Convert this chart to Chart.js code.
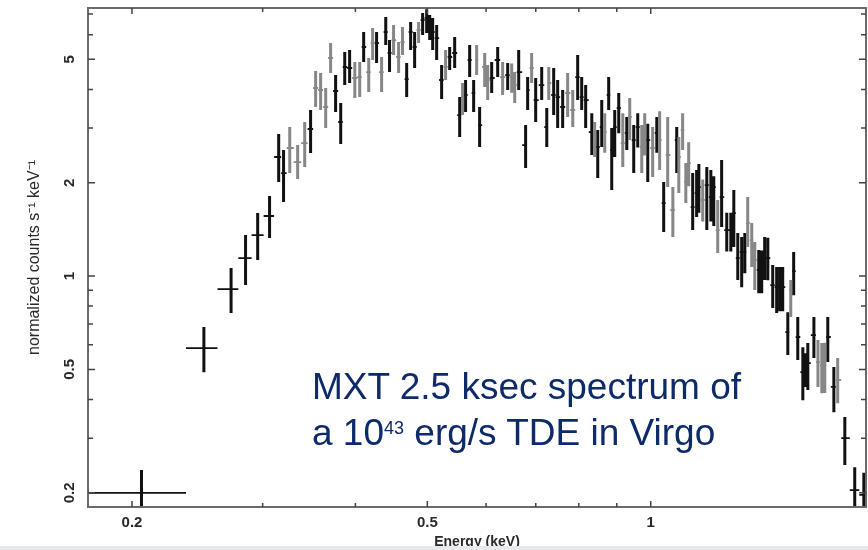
<!DOCTYPE html>
<html><head><meta charset="utf-8">
<script src="https://cdn.jsdelivr.net/npm/chart.js@4.4.1/dist/chart.umd.min.js"></script>
<style>
html,body{margin:0;padding:0;background:#fff;}
#wrap{position:relative;width:868px;height:550px;overflow:hidden;background:#fff;}
canvas{position:absolute;left:0;top:0;}
#note{position:absolute;left:312px;top:364px;font-family:"Liberation Sans",Arial,sans-serif;font-size:37px;line-height:46px;color:#0d2a6b;white-space:nowrap;}
#note .sup{font-size:18px;position:relative;top:-11px;}
#strip{position:absolute;left:0;bottom:0;width:868px;height:4px;background:#e6ecec;}
</style></head>
<body><div id="wrap"><canvas id="c" width="868" height="550"></canvas><div id="note">MXT 2.5 ksec spectrum of<br>a 10<span class="sup">43</span> erg/s TDE in Virgo</div><div id="strip"></div></div>
<script>
// ---- data ----
const energy = [0.206,0.250,0.272,0.2845,0.2954,0.3065,0.3153,0.3201,0.3263,0.3344,0.3418,0.3481,0.3536,0.3591,0.3648,0.3704,0.3762,0.3822,0.387,0.3929,0.3993,0.4054,0.4104,0.4169,0.4220,0.4272,0.4339,0.4395,0.4447,0.4503,0.4574,0.4630,0.469,0.4748,0.4807,0.4867,0.4928,0.4990,0.5037,0.5084,0.5147,0.5227,0.5292,0.5359,0.5443,0.5528,0.5578,0.563,0.5702,0.5773,0.5827,0.5881,0.5974,0.603,0.6105,0.622,0.6316,0.6416,0.6496,0.6557,0.6639,0.6783,0.6826,0.6911,0.6998,0.713,0.7243,0.7288,0.74,0.7492,0.7609,0.7728,0.7851,0.7972,0.8072,0.8172,0.8329,0.8403,0.8484,0.859,0.867,0.8777,0.886,0.8943,0.9055,0.9169,0.9284,0.9369,0.9486,0.9605,0.9725,0.9815,0.9908,1.006,1.019,1.028,1.041,1.054,1.071,1.084,1.091,1.104,1.115,1.125,1.139,1.153,1.161,1.175,1.19,1.205,1.216,1.231,1.246,1.266,1.282,1.294,1.310,1.326,1.339,1.351,1.368,1.381,1.398,1.411,1.424,1.438,1.460,1.478,1.492,1.506,1.530,1.544,1.558,1.578,1.603,1.618,1.628,1.659,1.680,1.700,1.716,1.732,1.765,1.786,1.826,1.883,1.937];
const counts = [0.200,0.586,0.908,1.143,1.356,1.562,2.421,2.149,2.588,2.332,2.685,2.98,4.041,3.981,3.509,5.049,3.952,3.139,4.723,4.688,4.352,4.384,5.479,4.55,5.642,5.642,4.55,6.124,5.241,5.77,5.087,5.685,4.319,6.124,5.479,6.216,6.696,6.796,6.45,6.124,5.857,4.288,4.723,5.087,5.241,3.306,3.779,3.837,4.975,3.894,4.975,3.069,4.723,4.288,4.352,4.975,4.384,4.45,4.384,4.131,4.55,2.646,3.98,4.688,3.696,4.131,3.024,4.194,3.837,3.779,3.509,3.894,3.432,4.384,3.779,3.696,2.914,2.808,2.608,3.024,2.914,3.837,2.55,3.024,3.483,2.685,2.893,3.258,2.746,3.024,2.608,2.893,2.746,2.588,2.893,2.746,1.72,2.457,1.633,2.746,2.421,2.958,2.01,2.314,1.669,1.852,1.937,1.759,1.966,1.798,1.937,1.407,1.798,1.407,1.407,1.597,1.143,1.195,1.195,1.483,1.306,1.126,1.046,1.046,1.143,1.143,0.935,0.921,0.921,0.921,0.660,0.901,1.038,0.636,0.490,0.490,0.524,0.645,0.528,0.516,0.516,0.636,0.439,0.462,0.300,0.204,0.197];
const countLow = [0.170,0.490,0.760,0.935,1.126,1.326,2.010,1.733,2.149,2.055,2.247,2.493,3.509,3.432,3.002,4.516,3.381,2.666,4.131,4.194,3.751,3.78,4.901,3.923,4.975,4.865,3.923,5.56,4.55,5.164,4.516,5.164,3.779,5.358,4.688,5.642,5.99,6.08,5.77,5.358,4.975,3.724,4.288,4.618,4.688,2.808,3.306,3.381,4.384,3.381,4.45,2.608,4.07,3.696,3.894,4.384,3.837,3.98,3.9,3.615,3.98,2.23,3.43,4.194,3.139,3.696,2.608,3.696,3.306,3.0,3.002,3.26,3.024,3.696,3.43,3.0,2.456,2.42,2.07,2.608,2.5,3.43,1.894,2.42,2.89,2.247,2.55,2.746,2.149,2.6,2.149,2.45,2.01,2.085,2.5,2.2,1.386,1.937,1.336,2.149,1.852,2.55,1.72,1.95,1.407,1.55,1.6,1.5,1.407,1.5,1.45,1.186,1.439,1.2,1.2,1.24,0.971,0.921,1.022,1.24,1.069,0.901,0.881,0.88,0.971,0.97,0.789,0.760,0.77,0.77,0.556,0.738,0.868,0.536,0.398,0.439,0.429,0.544,0.439,0.419,0.42,0.528,0.364,0.389,0.246,0.17,0.17];
const countHigh = [0.237,0.685,1.061,1.356,1.597,1.811,2.871,2.550,3.024,2.646,3.139,3.432,4.584,4.516,4.041,5.642,4.450,3.615,5.279,5.358,4.901,4.90,6.124,5.049,6.31,6.124,5.087,6.846,5.77,6.45,5.685,6.357,4.865,6.597,6.124,6.597,7.053,7.25,6.948,6.796,6.45,4.793,5.358,5.479,5.902,3.779,4.194,4.288,5.56,4.288,5.56,3.509,5.241,4.793,4.901,5.479,4.901,4.865,4.85,4.55,5.358,3.069,4.384,5.241,4.352,4.723,3.483,4.723,4.688,4.288,3.98,4.516,3.98,5.164,4.384,4.131,3.35,3.139,2.957,3.696,3.35,4.384,3.0,3.43,3.894,3.35,3.26,3.75,3.069,3.35,3.069,3.35,3.1,3.024,3.26,3.4,2.01,3.26,1.937,3.024,2.808,3.35,2.314,2.7,2.149,2.2,2.3,2.05,2.247,2.2,2.1,1.759,2.367,1.6,1.6,1.894,1.376,1.336,1.376,1.798,1.483,1.287,1.213,1.21,1.336,1.33,1.085,1.069,1.07,1.07,0.765,0.971,1.195,0.738,0.590,0.564,0.608,0.738,0.622,0.608,0.61,0.738,0.509,0.544,0.351,0.242,0.232];
// 0 = black data group, 1 = grey data group
const group = [0,0,0,0,0,0,0,0,1,1,1,0,1,1,1,1,0,0,0,0,1,1,0,1,1,0,1,0,0,1,1,1,0,0,0,1,0,0,0,0,0,0,1,0,0,0,1,0,0,0,1,0,1,1,0,0,1,0,1,1,0,0,0,1,0,0,0,1,0,0,0,1,1,0,0,0,0,1,0,0,1,0,0,0,0,1,0,1,0,0,1,1,0,1,0,1,0,1,1,0,1,1,1,1,0,0,0,1,0,0,0,1,0,0,0,0,0,0,0,1,1,1,0,0,0,0,0,0,0,0,0,1,0,0,0,0,0,0,1,1,1,0,0,1,0,0,0];
const firstBin = [0.165, 0.2365];          // energy bin of the lowest point
const xTickLabels = [0.2, 0.5, 1];
const yTickLabels = [0.2, 0.5, 1, 2, 5];
const xMinorTicks = [0.2,0.3,0.4,0.5,0.6,0.7,0.8,0.9,1,2];
const yMinorTicks = [0.2,0.3,0.4,0.5,0.6,0.7,0.8,0.9,1,2,3,4,5,6,7];
const xRange = [0.1745, 1.95];
const yRange = [0.180, 7.32];

// ---- bin edges (geometric midpoints between neighbouring channels) ----
const N = energy.length;
const edges = [firstBin[0], firstBin[1]];
for (let i = 2; i < N; i++) edges.push(Math.sqrt(energy[i-1]*energy[i]));
edges.push(energy[N-1]*energy[N-1]/edges[N-1]);

function segs(g, vertical){
  const out = [];
  for (let i = 0; i < N; i++){
    if (group[i] !== g) continue;
    if (vertical){ out.push({x:energy[i],y:countLow[i]},{x:energy[i],y:countHigh[i]}); }
    else { out.push({x:edges[i],y:counts[i]},{x:edges[i+1],y:counts[i]}); }
    out.push({x:energy[i],y:null});
  }
  return out;
}
const BLACK = '#111111', GREY = '#878787';
function ds(g, v){
  return {data:segs(g,v), showLine:true, spanGaps:false, pointRadius:0,
    borderColor: g===0?BLACK:GREY, borderWidth: v?3:1.8, borderCapStyle:'butt', fill:false};
}

const FONT = '"Liberation Sans", Arial, sans-serif';
const frame = {
  id:'frame',
  afterDraw(chart){
    const {ctx, chartArea:a, scales:{x,y}} = chart;
    ctx.save();
    ctx.strokeStyle = '#6a6a6a';
    ctx.lineWidth = 2;
    ctx.strokeRect(a.left, a.top, a.right-a.left, a.bottom-a.top);
    ctx.lineWidth = 1.5;
    ctx.strokeStyle = '#444';
    ctx.beginPath();
    xMinorTicks.forEach(v=>{
      if (v < xRange[0] || v > xRange[1]) return;
      const px = x.getPixelForValue(v), L = xTickLabels.includes(v)?6:4;
      ctx.moveTo(px,a.bottom); ctx.lineTo(px,a.bottom-L);
      ctx.moveTo(px,a.top); ctx.lineTo(px,a.top+L);
    });
    yMinorTicks.forEach(v=>{
      if (v < yRange[0] || v > yRange[1]) return;
      const py = y.getPixelForValue(v), L = yTickLabels.includes(v)?7:5;
      ctx.moveTo(a.left,py); ctx.lineTo(a.left+L,py);
      ctx.moveTo(a.right,py); ctx.lineTo(a.right-L,py);
    });
    ctx.stroke();
    // rotated y tick labels
    ctx.fillStyle = '#2a2a2a';
    ctx.font = 'bold 15px ' + FONT;
    ctx.textAlign = 'center';
    ctx.textBaseline = 'middle';
    yTickLabels.forEach(v=>{
      const py = y.getPixelForValue(v);
      ctx.save(); ctx.translate(70, py); ctx.rotate(-Math.PI/2);
      ctx.fillText(String(v), 0, 0); ctx.restore();
    });
    ctx.restore();
  }
};

new Chart(document.getElementById('c'), {
  type:'scatter',
  data:{datasets:[ds(1,true), ds(1,false), ds(0,true), ds(0,false)]},
  options:{
    responsive:false, animation:false, devicePixelRatio:1,
    layout:{padding:{top:8,right:2,left:0,bottom:0}},
    plugins:{legend:{display:false}, tooltip:{enabled:false}},
    scales:{
      x:{type:'logarithmic', min:xRange[0], max:xRange[1],
        grid:{display:false, drawTicks:false}, border:{display:false},
        afterBuildTicks:s=>{ s.ticks = xTickLabels.map(v=>({value:v})); },
        afterFit:s=>{ s.height = 43; },
        ticks:{autoSkip:false, maxRotation:0, minRotation:0, padding:7, color:'#2a2a2a',
          font:{family:FONT, size:15, weight:'bold'}, callback:v=>String(v)},
        title:{display:true, text:'Energy (keV)', color:'#2a2a2a', padding:{top:0,bottom:-1},
          font:{family:FONT, size:14, weight:'bold'}}
      },
      y:{type:'logarithmic', min:yRange[0], max:yRange[1],
        grid:{display:false, drawTicks:false}, border:{display:false},
        afterBuildTicks:s=>{ s.ticks = yTickLabels.map(v=>({value:v})); },
        afterFit:s=>{ s.width = 88; },
        ticks:{display:false},
        title:{display:true, text:'normalized counts s\u207B\u00B9 keV\u207B\u00B9', color:'#2a2a2a',
          padding:{top:25,bottom:0}, font:{family:FONT, size:16}}
      }
    }
  },
  plugins:[frame]
});
</script>
</body></html>
